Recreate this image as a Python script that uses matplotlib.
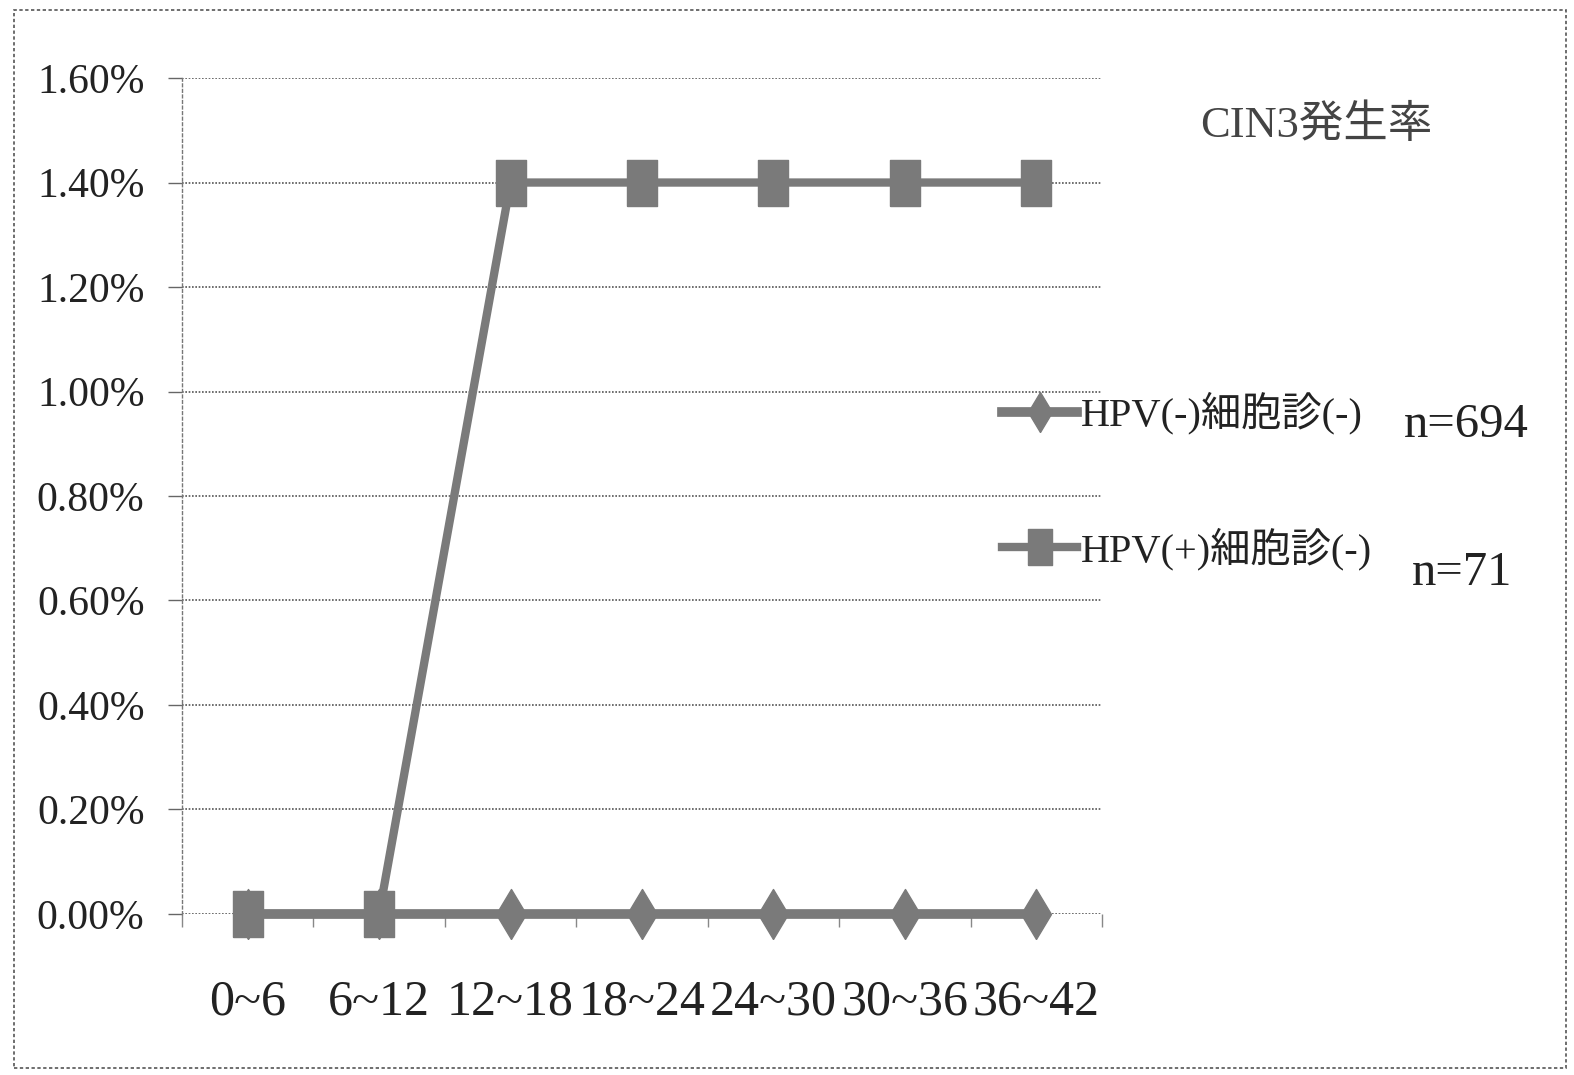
import matplotlib
matplotlib.use("Agg")
import matplotlib.pyplot as plt
from matplotlib.patches import Rectangle
from matplotlib.ticker import FuncFormatter, FixedLocator

# Follow-up period (months) and CIN3 incidence (%)
periods = ["0~6", "6~12", "12~18", "18~24", "24~30", "30~36", "36~42"]
hpv_neg = [0.0, 0.0, 0.0, 0.0, 0.0, 0.0, 0.0]
hpv_pos = [0.0, 0.0, 1.4, 1.4, 1.4, 1.4, 1.4]
label_neg = "HPV(-)細胞診(-)"
label_pos = "HPV(+)細胞診(-)"
n_neg = "n=694"
n_pos = "n=71"
title = "CIN3発生率"
y_ticks = [0.0, 0.2, 0.4, 0.6, 0.8, 1.0, 1.2, 1.4, 1.6]

serif_jp = ["Liberation Serif", "Noto Sans CJK JP"]
line_col = "#7a7a7a"

# tall marker shapes
tall_square = [(-0.66, -1), (0.66, -1), (0.66, 1), (-0.66, 1), (-0.66, -1)]
tall_diamond = [(0, -1), (0.6, 0), (0, 1), (-0.6, 0), (0, -1)]

fig = plt.figure(figsize=(15.74, 10.75), dpi=100)
ax = fig.add_axes([0.1156, 0.1498, 0.5845, 0.7776])

x = list(range(len(periods)))
ax.plot(x, hpv_neg, color=line_col, lw=7, marker=tall_diamond, ms=36,
        mfc=line_col, mec=line_col, label=label_neg, zorder=3, clip_on=False)
ax.plot(x, hpv_pos, color=line_col, lw=6, marker=tall_square, ms=33,
        mfc=line_col, mec=line_col, label=label_pos, zorder=4, clip_on=False)

ax.set_xlim(-0.5, len(periods) - 0.5)
ax.set_ylim(0, 1.6)
ax.set_yticks(y_ticks)
ax.yaxis.set_major_formatter(FuncFormatter(lambda v, p: f"{v:.2f}%"))
ax.set_xticks(x)
ax.set_xticklabels(periods)
ax.xaxis.set_minor_locator(FixedLocator([i - 0.5 for i in range(len(periods) + 1)]))

ax.grid(axis="y", linestyle=(0, (1, 1)), color="#555555", lw=1.2)
ax.set_axisbelow(True)
for s in ["top", "right", "bottom"]:
    ax.spines[s].set_visible(False)
ax.spines["left"].set_linestyle((0, (2, 2)))
ax.spines["left"].set_color("#777777")
ax.spines["left"].set_linewidth(1)

ax.tick_params(axis="y", length=10, width=1, color="#666666", pad=17,
               labelsize=30, labelcolor="#222222")
ax.tick_params(axis="x", which="major", length=0, pad=47,
               labelsize=36, labelcolor="#222222")
ax.tick_params(axis="x", which="minor", length=9, width=1, color="#888888",
               direction="out")
for lbl in ax.get_yticklabels() + ax.get_xticklabels():
    lbl.set_family(serif_jp)

leg = ax.legend(loc="upper left", bbox_to_anchor=(0.624, 1 - 372 / 1075),
                bbox_transform=fig.transFigure, frameon=False,
                prop={"family": serif_jp, "size": 29},
                handlelength=1.85, handletextpad=0.1, labelspacing=2.3,
                borderpad=0, markerscale=0.8)
for t in leg.get_texts():
    t.set_color("#222222")

fig.text(1466 / 1574, 1 - 425 / 1075, n_neg, family=serif_jp, fontsize=35,
         ha="center", va="center", color="#222222")
fig.text(1462 / 1574, 1 - 573 / 1075, n_pos, family=serif_jp, fontsize=35,
         ha="center", va="center", color="#222222")
fig.text(1316 / 1574, 1 - 125 / 1075, title, family=serif_jp, fontsize=32,
         ha="center", va="center", color="#444444")

# outer chart frame
fig.patches.append(Rectangle((14 / 1574, 1 - 1068 / 1075), 1552 / 1574, 1058 / 1075,
                             transform=fig.transFigure, fill=False,
                             ec="#555555", lw=1.2, ls=(0, (2, 1.5))))

fig.savefig("out.png", dpi=100, facecolor="white")
